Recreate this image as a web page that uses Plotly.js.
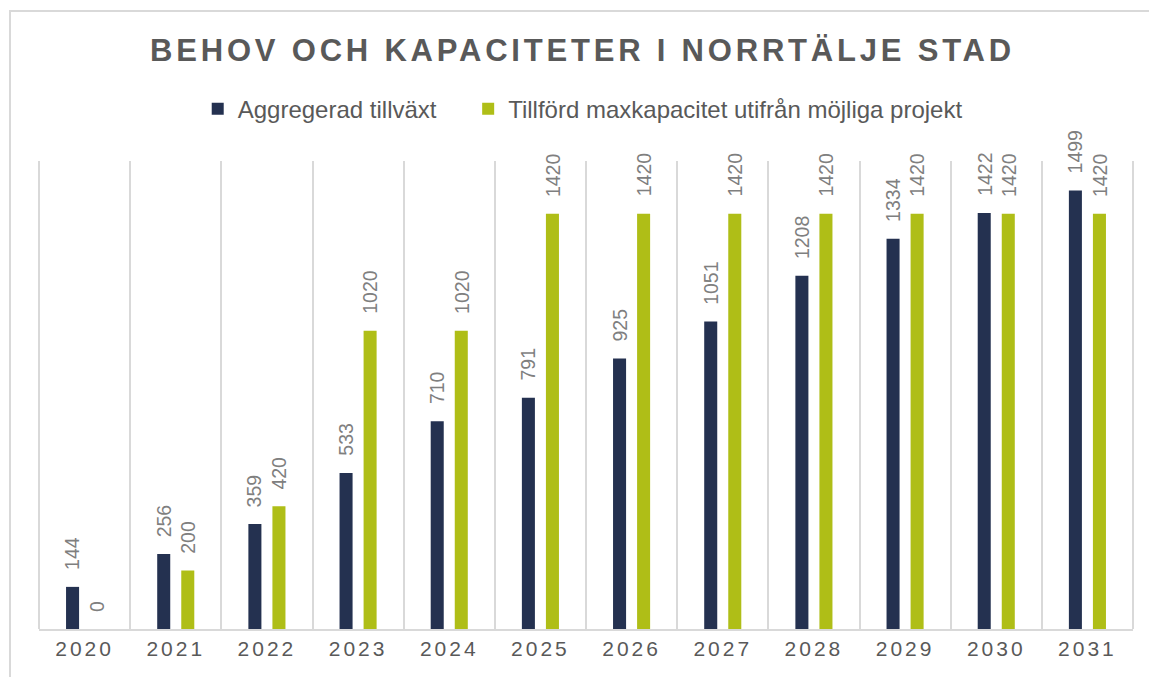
<!DOCTYPE html>
<html>
<head>
<meta charset="utf-8">
<script src="https://cdn.plot.ly/plotly-3.0.1.min.js"></script>
<style>
  html, body { margin: 0; padding: 0; background: #ffffff; }
  #wrap { position: relative; width: 1149px; height: 677px; overflow: hidden; }
  #chart { width: 1149px; height: 677px; }
  #frame { position: absolute; left: 9px; top: 10px; width: 1160px; height: 700px;
           border: 2px solid #d9d9d9; pointer-events: none; box-sizing: border-box; }
  .gtitle { letter-spacing: 3.8px; }
  .xtick text { letter-spacing: 3px; }
</style>
</head>
<body>
<div id="wrap">
  <div id="chart"></div>
  <div id="frame"></div>
</div>
<script>
const years = ['2020','2021','2022','2023','2024','2025','2026','2027','2028','2029','2030','2031'];
const aggregeradTillvaxt = [144, 256, 359, 533, 710, 791, 925, 1051, 1208, 1334, 1422, 1499];
const tillfordMaxkapacitet = [0, 200, 420, 1020, 1020, 1420, 1420, 1420, 1420, 1420, 1420, 1420];
const seriesNames = ['Aggregerad tillväxt', 'Tillförd maxkapacitet utifrån möjliga projekt'];
const seriesColors = ['#243150', '#afbe17'];

// extra non-breaking spaces only widen the gap between the two legend entries
const legendPad = '\u00a0\u00a0\u00a0\u00a0';

const traces = [
  { type: 'bar', name: seriesNames[0] + legendPad, x: years, y: aggregeradTillvaxt,
    marker: { color: seriesColors[0] }, hovertemplate: seriesNames[0] + ': %{y}<extra></extra>' },
  { type: 'bar', name: seriesNames[1], x: years, y: tillfordMaxkapacitet,
    marker: { color: seriesColors[1] }, hovertemplate: seriesNames[1] + ': %{y}<extra></extra>' }
];

const labelFont = { family: 'Liberation Sans, Arial, sans-serif', size: 19.5, color: '#7f7f7f' };
const annotations = [];
[aggregeradTillvaxt, tillfordMaxkapacitet].forEach((vals, si) => {
  vals.forEach((v, i) => {
    annotations.push({
      x: i, y: v, xref: 'x', yref: 'y',
      text: String(v), showarrow: false, textangle: -90,
      xanchor: 'center', yanchor: 'bottom',
      xshift: si === 0 ? -12 : 12, yshift: 15,
      font: labelFont
    });
  });
});

const gridLine = { color: '#d9d9d9', width: 2 };

const layout = {
  width: 1149, height: 677,
  paper_bgcolor: '#ffffff', plot_bgcolor: '#ffffff',
  margin: { l: 39, r: 16, t: 161, b: 48 },
  title: {
    text: '<b>BEHOV OCH KAPACITETER I NORRTÄLJE STAD</b>',
    font: { family: 'Liberation Sans, Arial, sans-serif', size: 31, color: '#595959' },
    x: 0.507, xanchor: 'center', y: 0.926, yanchor: 'middle', xref: 'container', yref: 'container'
  },
  showlegend: true,
  legend: {
    orientation: 'h', x: 0.497, xanchor: 'center', y: 1.111, yanchor: 'middle',
    font: { family: 'Liberation Sans, Arial, sans-serif', size: 24, color: '#595959' },
    itemsizing: 'constant', traceorder: 'normal'
  },
  barmode: 'group',
  bargap: 0.4725,
  bargroupgap: 0.458,
  xaxis: {
    type: 'category', tickson: 'boundaries', range: [-0.5, 11.5], autorange: false,
    showgrid: true, gridcolor: '#d9d9d9', gridwidth: 2,
    showline: true, linecolor: '#d9d9d9', linewidth: 2,
    ticks: '', zeroline: false, tickangle: 0,
    tickfont: { family: 'Liberation Sans, Arial, sans-serif', size: 21, color: '#595959' },
    fixedrange: true
  },
  yaxis: {
    range: [0, 1600], autorange: false, visible: false, showgrid: false, zeroline: false, fixedrange: true
  },
  shapes: [
    { type: 'line', xref: 'paper', yref: 'paper', x0: 0, x1: 0, y0: 0, y1: 1, line: gridLine, layer: 'below' },
    { type: 'line', xref: 'paper', yref: 'paper', x0: 1, x1: 1, y0: 0, y1: 1, line: gridLine, layer: 'below' }
  ],
  annotations: annotations
};

Plotly.newPlot('chart', traces, layout, { displayModeBar: false });
</script>
</body>
</html>
